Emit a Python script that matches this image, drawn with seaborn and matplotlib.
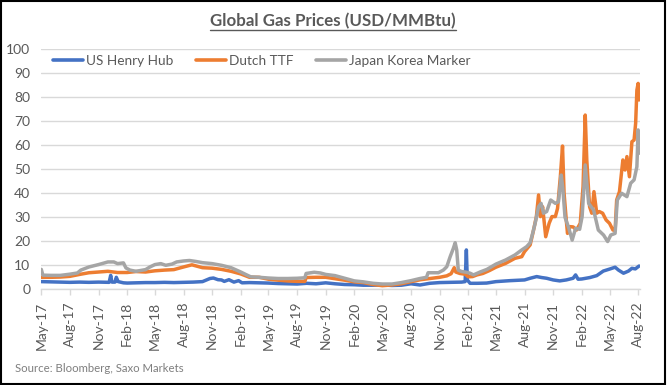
import matplotlib
matplotlib.use("Agg")
import matplotlib.pyplot as plt
import matplotlib.dates as mdates
from matplotlib.lines import Line2D
from matplotlib.patches import Rectangle
import seaborn as sns
import pandas as pd

# ---------------- data ----------------
hh_dates = ["2017-05-01", "2017-06-01", "2017-07-01", "2017-08-01", "2017-09-01", "2017-10-01",
            "2017-11-01", "2017-12-05", "2017-12-10", "2017-12-14", "2017-12-24", "2017-12-28",
            "2018-01-03", "2018-01-20", "2018-02-01", "2018-03-01", "2018-04-01", "2018-05-01",
            "2018-06-01", "2018-07-01", "2018-08-01", "2018-09-01", "2018-10-01", "2018-10-25",
            "2018-11-05", "2018-11-20", "2018-12-01", "2018-12-10", "2018-12-25", "2019-01-10",
            "2019-01-25", "2019-02-05", "2019-03-01", "2019-04-01", "2019-05-01", "2019-06-01",
            "2019-07-01", "2019-08-01", "2019-09-01", "2019-10-01", "2019-11-01", "2019-12-01",
            "2020-01-01", "2020-02-01", "2020-03-01", "2020-04-01", "2020-05-01", "2020-06-01",
            "2020-07-01", "2020-08-01", "2020-08-30", "2020-09-30", "2020-11-01", "2020-12-05",
            "2021-01-11", "2021-01-22", "2021-01-26", "2021-01-29", "2021-02-07", "2021-03-01",
            "2021-04-01", "2021-05-01", "2021-06-15", "2021-08-01", "2021-08-19", "2021-09-09",
            "2021-09-25", "2021-10-11", "2021-11-01", "2021-11-22", "2021-12-13", "2022-01-04",
            "2022-01-12", "2022-01-20", "2022-02-01", "2022-02-27", "2022-03-21", "2022-04-11",
            "2022-05-03", "2022-05-19", "2022-05-30", "2022-06-15", "2022-07-01", "2022-07-12",
            "2022-07-23", "2022-08-04"]
hh_values = [3.2, 3.1, 3.0, 2.9, 3.0, 2.9,
             3.0, 2.9, 5.8, 3.0, 3.0, 5.0,
             3.2, 2.7, 2.6, 2.7, 2.8, 2.8,
             2.9, 2.8, 2.9, 3.0, 3.2, 4.5,
             4.7, 4.0, 3.9, 3.3, 4.0, 3.0,
             3.6, 2.7, 2.8, 2.7, 2.6, 2.4,
             2.3, 2.2, 2.5, 2.3, 2.7, 2.3,
             2.0, 1.9, 1.7, 1.7, 1.8, 1.6,
             1.7, 2.3, 1.8, 2.5, 2.8, 2.9,
             3.0, 3.2, 16.4, 3.9, 2.5, 2.5,
             2.6, 3.2, 3.6, 3.9, 4.6, 5.3,
             4.9, 4.6, 3.9, 3.5, 3.9, 4.6,
             6.0, 4.2, 4.3, 4.9, 5.7, 7.6,
             8.5, 9.2, 8.0, 6.7, 7.6, 8.75,
             8.5, 9.7]

ttf_dates = ["2017-05-01", "2017-06-01", "2017-07-01", "2017-08-01", "2017-09-01", "2017-10-01",
             "2017-11-01", "2017-12-01", "2018-01-01", "2018-02-01", "2018-03-01", "2018-04-01",
             "2018-05-01", "2018-06-01", "2018-07-01", "2018-08-01", "2018-08-28", "2018-10-01",
             "2018-11-01", "2018-12-01", "2019-01-01", "2019-02-01", "2019-03-01", "2019-04-01",
             "2019-05-01", "2019-06-01", "2019-07-01", "2019-08-01", "2019-08-26", "2019-08-30",
             "2019-10-01", "2019-11-01", "2019-12-01", "2020-01-01", "2020-02-01", "2020-03-01",
             "2020-04-01", "2020-05-01", "2020-06-01", "2020-07-01", "2020-08-01", "2020-09-01",
             "2020-10-01", "2020-11-01", "2020-11-24", "2020-12-08", "2020-12-18", "2020-12-23",
             "2021-01-05", "2021-01-22", "2021-02-01", "2021-02-15", "2021-03-01", "2021-03-20",
             "2021-04-10", "2021-05-01", "2021-06-01", "2021-07-01", "2021-07-23", "2021-08-01",
             "2021-08-19", "2021-08-30", "2021-09-08", "2021-09-15", "2021-09-21", "2021-09-28",
             "2021-10-08", "2021-10-19", "2021-10-28", "2021-11-08", "2021-11-15", "2021-11-24",
             "2021-12-01", "2021-12-06", "2021-12-13", "2021-12-17", "2021-12-25", "2022-01-04",
             "2022-01-15", "2022-01-27", "2022-02-05", "2022-02-12", "2022-02-17", "2022-02-26",
             "2022-03-05", "2022-03-12", "2022-03-21", "2022-03-29", "2022-04-09", "2022-04-20",
             "2022-05-01", "2022-05-12", "2022-05-19", "2022-05-24", "2022-06-02", "2022-06-13",
             "2022-06-20", "2022-06-26", "2022-07-04", "2022-07-12", "2022-07-19", "2022-07-24",
             "2022-07-28", "2022-08-01", "2022-08-04"]
ttf_values = [5.0, 5.0, 5.1, 5.4, 6.2, 6.9,
              7.2, 7.5, 7.0, 7.0, 7.4, 7.2,
              7.7, 8.0, 8.2, 9.3, 10.2, 9.0,
              8.8, 8.3, 7.5, 6.4, 5.0, 5.0,
              4.2, 3.8, 3.5, 3.3, 3.3, 4.9,
              5.0, 5.0, 4.4, 3.8, 3.1, 2.8,
              2.0, 1.5, 1.8, 2.3, 3.2, 4.0,
              4.5, 5.0, 5.6, 6.5, 9.0, 7.2,
              6.6, 6.3, 5.2, 5.3, 6.0, 6.6,
              7.8, 9.2, 10.8, 12.9, 13.6, 15.7,
              18.5, 24.7, 30.3, 39.3, 30.3, 34.4,
              21.9, 27.5, 30.3, 30.3, 33.7, 46.9,
              59.7, 40.0, 28.9, 23.3, 26.1, 26.0,
              24.7, 27.5, 42.8, 72.6, 53.9, 34.4,
              31.7, 40.7, 31.7, 32.4, 31.7, 28.9,
              27.5, 24.7, 24.5, 37.2, 40.7, 53.9,
              49.7, 55.3, 46.9, 61.5, 62.2, 69.2,
              83.0, 85.8, 78.9]

jkm_dates = ["2017-05-01", "2017-05-06", "2017-06-01", "2017-07-01", "2017-08-01", "2017-08-25",
             "2017-09-05", "2017-10-01", "2017-11-01", "2017-12-01", "2017-12-20", "2018-01-01",
             "2018-01-20", "2018-01-28", "2018-02-10", "2018-03-01", "2018-04-01", "2018-04-15",
             "2018-05-01", "2018-05-20", "2018-06-05", "2018-06-25", "2018-07-10", "2018-08-01",
             "2018-08-20", "2018-09-10", "2018-10-01", "2018-11-01", "2018-12-01", "2019-01-01",
             "2019-02-01", "2019-02-20", "2019-03-05", "2019-04-01", "2019-05-01", "2019-06-01",
             "2019-07-01", "2019-08-01", "2019-08-26", "2019-08-30", "2019-09-25", "2019-10-15",
             "2019-11-01", "2019-12-01", "2020-01-01", "2020-02-01", "2020-03-01", "2020-04-01",
             "2020-05-01", "2020-06-01", "2020-07-01", "2020-08-01", "2020-08-30", "2020-09-20",
             "2020-09-25", "2020-10-28", "2020-11-13", "2020-11-24", "2020-12-05", "2020-12-15",
             "2020-12-21", "2020-12-26", "2020-12-31", "2021-01-11", "2021-01-27", "2021-02-07",
             "2021-02-18", "2021-03-11", "2021-04-02", "2021-05-01", "2021-06-01", "2021-07-01",
             "2021-07-23", "2021-08-08", "2021-08-19", "2021-08-27", "2021-09-04", "2021-09-15",
             "2021-09-23", "2021-10-01", "2021-10-11", "2021-10-24", "2021-11-08", "2021-11-18",
             "2021-11-27", "2021-12-02", "2021-12-09", "2021-12-20", "2022-01-01", "2022-01-12",
             "2022-01-25", "2022-02-02", "2022-02-12", "2022-02-23", "2022-03-11", "2022-03-26",
             "2022-04-12", "2022-04-25", "2022-05-05", "2022-05-19", "2022-05-26", "2022-06-09",
             "2022-06-26", "2022-07-08", "2022-07-19", "2022-07-28", "2022-08-01", "2022-08-04"]
jkm_values = [8.3, 5.9, 5.8, 5.8, 6.3, 6.8,
              8.0, 9.3, 10.3, 11.4, 11.4, 10.7,
              11.0, 8.9, 8.0, 7.5, 8.2, 9.3,
              10.3, 10.7, 10.0, 10.5, 11.4, 11.8,
              12.0, 11.6, 11.1, 10.7, 10.0, 9.0,
              7.2, 6.0, 5.2, 5.0, 4.7, 4.5,
              4.5, 4.6, 4.8, 6.6, 7.1, 6.8,
              6.2, 5.7, 4.6, 3.5, 3.1, 2.5,
              2.2, 2.2, 2.8, 3.6, 4.5, 5.0,
              6.9, 6.9, 8.0, 9.4, 13.6, 17.0,
              19.4, 16.4, 8.0, 7.4, 7.1, 6.7,
              6.0, 7.2, 8.3, 10.5, 12.2, 14.3,
              16.4, 17.8, 19.4, 23.3, 27.5, 34.4,
              35.8, 31.7, 32.4, 37.2, 35.8, 36.5,
              47.6, 42.0, 30.0, 26.0, 20.5, 25.4,
              25.0, 30.3, 51.8, 35.8, 33.0, 24.7,
              22.6, 19.9, 22.6, 23.3, 37.2, 40.0,
              38.6, 44.2, 45.6, 51.1, 66.4, 56.7]

series_names = ["US Henry Hub", "Dutch TTF", "Japan Korea Marker"]
series_colors = ["#4472C4", "#ED7D31", "#A5A5A5"]
title_text = "Global Gas Prices (USD/MMBtu)"
source_text = "Source: Bloomberg, Saxo Markets"

# ---------------- build long-form table ----------------
frames = []
for name, d, v in zip(series_names, [hh_dates, ttf_dates, jkm_dates],
                      [hh_values, ttf_values, jkm_values]):
    frames.append(pd.DataFrame({"date": pd.to_datetime(d), "price": v, "series": name}))
df = pd.concat(frames, ignore_index=True)

sns.set_theme(style="white")
plt.rcParams["font.family"] = ["Lato", "DejaVu Sans"]

W, H = 668, 385
fig = plt.figure(figsize=(W / 100, H / 100), dpi=100)
ax = fig.add_axes([41.3 / W, 1 - 289.3 / H, (640 - 41.3) / W, 240 / H])

sns.lineplot(data=df, x="date", y="price", hue="series", hue_order=series_names,
             palette=dict(zip(series_names, series_colors)), estimator=None, sort=False,
             linewidth=2.5, legend=False, ax=ax)

ax.set_xlim(pd.Timestamp("2017-05-01"), pd.Timestamp("2022-08-07"))
ax.set_ylim(0, 100)
ax.set_yticks(range(0, 101, 10))
ax.yaxis.grid(True, color="#D9D9D9", linewidth=1)
ax.xaxis.grid(False)
ax.set_axisbelow(True)
for s in ["left", "right", "top"]:
    ax.spines[s].set_visible(False)
ax.spines["bottom"].set_color("#D9D9D9")
ax.spines["bottom"].set_linewidth(1)

ax.xaxis.set_major_locator(mdates.MonthLocator(bymonth=[2, 5, 8, 11]))
ax.xaxis.set_major_formatter(mdates.DateFormatter("%b-%y"))
ax.tick_params(axis="x", direction="out", length=4, width=1, color="#D9D9D9",
               labelsize=10, labelcolor="#595959", pad=5, bottom=True)
ax.tick_params(axis="y", length=0, labelsize=10, labelcolor="#595959", pad=8)
for lab in ax.get_xticklabels():
    lab.set_rotation(90)
ax.set_xlabel("")
ax.set_ylabel("")

handles = [Line2D([0], [0], color=c, lw=2.6) for c in series_colors]
leg = ax.legend(handles, series_names, loc="center left",
                bbox_to_anchor=((53 - 41.3) / 598.7, (289.3 - 61) / 240),
                ncol=3, frameon=False, fontsize=9.8, handlelength=2.2,
                handletextpad=0.2, columnspacing=1.7, borderpad=0, borderaxespad=0)
for t in leg.get_texts():
    t.set_color("#595959")

title = fig.text(333 / W, 1 - 21 / H, title_text, ha="center", va="center",
                 fontsize=12.2, fontweight="bold", color="#595959")
fig.text(15 / W, 1 - 369 / H, source_text, ha="left", va="center",
         fontsize=8.2, color="#7F7F7F")

fig.canvas.draw()
bb = title.get_window_extent()
uy = (bb.y0 - 1) / H
fig.add_artist(Line2D([bb.x0 / W, bb.x1 / W], [uy, uy], transform=fig.transFigure,
                      color="#595959", lw=1))

fig.add_artist(Rectangle((0.5 / W, 1.5 / H), (W - 3.5) / W, (H - 2.5) / H,
                         transform=fig.transFigure, fill=False, edgecolor="black", lw=1.5))

fig.savefig("out.png", dpi=100)
